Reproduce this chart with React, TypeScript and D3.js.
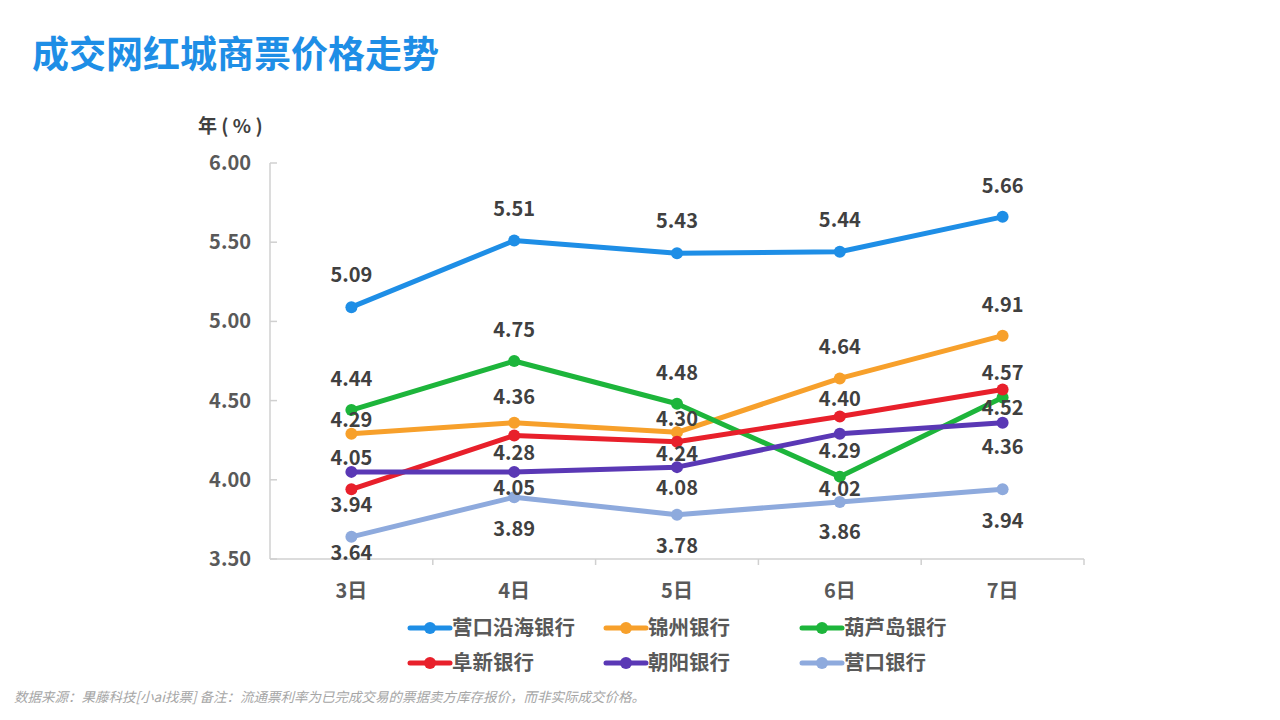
import React, { useRef, useEffect } from 'react';
import * as d3 from 'd3';

const categories = ['3日', '4日', '5日', '6日', '7日'];
const seriesNames = ['营口沿海银行', '锦州银行', '葫芦岛银行', '阜新银行', '朝阳银行', '营口银行'];
const yingkouCoastal = [5.09, 5.51, 5.43, 5.44, 5.66];
const jinzhou = [4.29, 4.36, 4.30, 4.64, 4.91];
const huludao = [4.44, 4.75, 4.48, 4.02, 4.52];
const fuxin = [3.94, 4.28, 4.24, 4.40, 4.57];
const chaoyang = [4.05, 4.05, 4.08, 4.29, 4.36];
const yingkou = [3.64, 3.89, 3.78, 3.86, 3.94];
const yTicks = [3.5, 4.0, 4.5, 5.0, 5.5, 6.0];

// label offsets (px) relative to each point
const labelDy = [
  [-32, -32, -32, -32, -31],
  [-14, -26, -13, -31, -31],
  [-31, -31, -31, 12, 11],
  [16, 18, 12, -17, -17],
  [-14, 16, 21, 17, 24],
  [16, 32, 31, 30, 32],
];

const colors = ['#1E8EE6', '#F7A02B', '#1DB53B', '#E8202B', '#5A38B5', '#8EAADD'];

const App: React.FC = () => {
  const svgRef = useRef<SVGSVGElement | null>(null);

  useEffect(() => {
    if (!svgRef.current) return;
    const svg = d3.select(svgRef.current);
    svg.selectAll('*').remove();

    const font = '"Noto Sans CJK SC", "Noto Sans", sans-serif';
    const allSeries = [yingkouCoastal, jinzhou, huludao, fuxin, chaoyang, yingkou];

    const left = 270, right = 1084, top = 163, bottom = 559;
    const x = d3.scaleBand<string>().domain(categories).range([left, right]);
    const y = d3.scaleLinear().domain([3.5, 6.0]).range([bottom, top]);
    const cx = (c: string) => (x(c) as number) + x.bandwidth() / 2;

    // title
    svg.append('text')
      .attr('x', 32).attr('y', 68)
      .attr('font-family', font).attr('font-weight', 700).attr('font-size', 37)
      .attr('fill', '#1E8EE6')
      .text('成交网红城商票价格走势');

    // axis unit
    svg.append('text')
      .attr('x', 198).attr('y', 133)
      .attr('font-family', font).attr('font-weight', 700).attr('font-size', 19)
      .attr('fill', '#404040')
      .text('年 ( % )');

    const axisColor = '#D0D0D0';
    // y axis
    svg.append('line')
      .attr('x1', left).attr('x2', left).attr('y1', top).attr('y2', bottom)
      .attr('stroke', axisColor).attr('stroke-width', 1.5);
    yTicks.forEach(t => {
      svg.append('line')
        .attr('x1', left).attr('x2', left + 7).attr('y1', y(t)).attr('y2', y(t))
        .attr('stroke', axisColor).attr('stroke-width', 1.5);
      svg.append('text')
        .attr('x', 251).attr('y', y(t) + 7)
        .attr('text-anchor', 'end')
        .attr('font-family', font).attr('font-weight', 700).attr('font-size', 20)
        .attr('fill', '#595959')
        .text(t.toFixed(2));
    });

    // x axis
    svg.append('line')
      .attr('x1', left).attr('x2', right).attr('y1', bottom).attr('y2', bottom)
      .attr('stroke', axisColor).attr('stroke-width', 1.5);
    categories.forEach((c, i) => {
      const bx = x(c) as number;
      if (i > 0) {
        svg.append('line')
          .attr('x1', bx).attr('x2', bx).attr('y1', bottom).attr('y2', bottom + 6)
          .attr('stroke', axisColor).attr('stroke-width', 1.5);
      }
      svg.append('text')
        .attr('x', cx(c)).attr('y', 598)
        .attr('text-anchor', 'middle')
        .attr('font-family', font).attr('font-weight', 700).attr('font-size', 20)
        .attr('fill', '#595959')
        .text(c);
    });
    svg.append('line')
      .attr('x1', right).attr('x2', right).attr('y1', bottom).attr('y2', bottom + 6)
      .attr('stroke', axisColor).attr('stroke-width', 1.5);

    const line = d3.line<number>()
      .x((_, i) => cx(categories[i]))
      .y(d => y(d));

    allSeries.forEach((vals, s) => {
      svg.append('path')
        .attr('d', line(vals) as string)
        .attr('fill', 'none')
        .attr('stroke', colors[s])
        .attr('stroke-width', 5)
        .attr('stroke-linejoin', 'round');
      vals.forEach((v, i) => {
        svg.append('circle')
          .attr('cx', cx(categories[i])).attr('cy', y(v)).attr('r', 6)
          .attr('fill', colors[s]);
      });
    });

    // data labels on top
    allSeries.forEach((vals, s) => {
      vals.forEach((v, i) => {
        svg.append('text')
          .attr('x', cx(categories[i]))
          .attr('y', y(v) + labelDy[s][i] + 7)
          .attr('text-anchor', 'middle')
          .attr('font-family', font).attr('font-weight', 700).attr('font-size', 20)
          .attr('fill', '#404040')
          .text(v.toFixed(2));
      });
    });

    // legend
    const legendX = [410, 606, 802];
    const legendY = [628, 663];
    seriesNames.forEach((name, s) => {
      const lx = legendX[s % 3];
      const ly = legendY[Math.floor(s / 3)];
      const g = svg.append('g').attr('transform', `translate(${lx},${ly})`);
      g.append('line')
        .attr('x1', 0).attr('x2', 40).attr('y1', 0).attr('y2', 0)
        .attr('stroke', colors[s]).attr('stroke-width', 5).attr('stroke-linecap', 'round');
      g.append('circle').attr('cx', 20).attr('cy', 0).attr('r', 6).attr('fill', colors[s]);
      g.append('text')
        .attr('x', 42).attr('y', 7)
        .attr('font-family', font).attr('font-weight', 700).attr('font-size', 20.5)
        .attr('fill', '#595959')
        .text(name);
    });

    // footnote
    svg.append('text')
      .attr('x', 14).attr('y', 702)
      .attr('font-family', font).attr('font-style', 'italic').attr('font-size', 13.5)
      .attr('fill', '#A6A6A6')
      .text('数据来源：果藤科技[小ai找票] 备注：流通票利率为已完成交易的票据卖方库存报价，而非实际成交价格。');
  }, []);

  return (
    <svg ref={svgRef} width={1280} height={720}
      style={{ position: 'absolute', left: 0, top: 0, background: '#fff' }} />
  );
};

export default App;
